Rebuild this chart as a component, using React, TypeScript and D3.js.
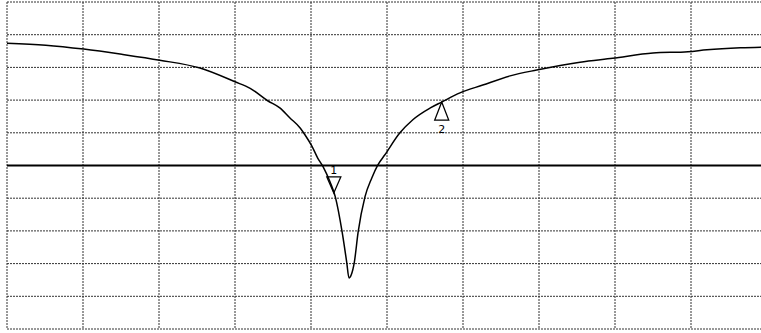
import * as d3 from 'd3';

// trace: frequency (MHz) and level (dB)
const freqs = [
  400, 405.1, 410.1, 415.1, 420.1, 425.4, 430.0, 432.0, 434.3, 435.9, 437.2, 438.6,
  439.2, 440.1, 440.9, 441.6, 442.5, 443.2, 444.1, 444.7, 445.0, 445.3, 445.7, 446.2,
  447.1, 448.0, 448.8, 449.7, 451.7, 453.4, 455.7, 457.2, 459.6, 462.6, 466.2, 469.7,
  475.4, 479.7, 485.0, 489.6, 492.1, 496.5, 500,
];
const levels = [
  -6.3, -6.6, -7.2, -8.0, -8.9, -10.1, -12.2, -13.2, -15.1, -16.2, -17.7, -19.3,
  -20.3, -22.0, -23.9, -25.2, -27.5, -29.8, -35.2, -39.8, -42.2, -41.7, -39.8, -35.2,
  -29.8, -26.9, -24.9, -23.4, -20.0, -18.0, -16.2, -15.3, -13.9, -12.7, -11.3, -10.4,
  -9.2, -8.6, -7.8, -7.6, -7.3, -7.0, -6.9,
];

const markerIds = ['1', '2'];
const markerFreqs = [443.0, 457.2];
const markerLevels = [-29.2, -15.3];

const referenceLevel = -25;
const xDivisions = 10;
const yDivisions = 10;

export default function App() {
  const width = 761;
  const height = 333;

  const x = d3.scaleLinear().domain([400, 500]).range([7, 767]);
  const y = d3.scaleLinear().domain([0, -50]).range([2, 329]);

  const xTicks = d3.range(xDivisions + 1).map((i) => 400 + (i * 100) / xDivisions);
  const yTicks = d3.range(yDivisions + 1).map((i) => (-i * 50) / yDivisions);

  const points = freqs.map((f, i) => [f, levels[i]] as [number, number]);
  const line = d3
    .line<[number, number]>()
    .x((d) => x(d[0]))
    .y((d) => y(d[1]))
    .curve(d3.curveMonotoneX);

  return (
    <>
      <style>{`body{margin:0;background:#fff}`}</style>
      <svg width={width} height={height} style={{ display: 'block' }}>
        <rect width={width} height={height} fill="#fff" />

        {xTicks.map((t) => (
          <line
            key={`vx${t}`}
            x1={x(t)}
            x2={x(t)}
            y1={y(0)}
            y2={y(-50)}
            stroke="#333"
            strokeWidth={1}
            strokeDasharray="2 1"
          />
        ))}
        {yTicks.map((t) => (
          <line
            key={`hy${t}`}
            x1={x(400)}
            x2={x(500)}
            y1={y(t)}
            y2={y(t)}
            stroke="#333"
            strokeWidth={1}
            strokeDasharray="2 1"
          />
        ))}

        <line
          x1={x(400)}
          x2={x(500)}
          y1={y(referenceLevel)}
          y2={y(referenceLevel)}
          stroke="#000"
          strokeWidth={2}
        />

        <path d={line(points) ?? ''} fill="none" stroke="#000" strokeWidth={1.5} strokeLinejoin="round" />

        {markerIds.map((id, i) => {
          const mx = x(markerFreqs[i]);
          const my = y(markerLevels[i]);
          const down = i === 0;
          const h = down ? 16 : 18;
          const w = 7;
          const tri = down
            ? `M${mx},${my} L${mx - w},${my - h} L${mx + w},${my - h} Z`
            : `M${mx},${my} L${mx - w},${my + h} L${mx + w},${my + h} Z`;
          return (
            <g key={id}>
              <path d={tri} fill="none" stroke="#000" strokeWidth={1.3} />
              <text
                x={mx}
                y={down ? my - h - 3 : my + h + 13}
                textAnchor="middle"
                fontFamily="DejaVu Sans, sans-serif"
                fontSize={11}
                fill="#000"
              >
                {id}
              </text>
            </g>
          );
        })}
      </svg>
    </>
  );
}
